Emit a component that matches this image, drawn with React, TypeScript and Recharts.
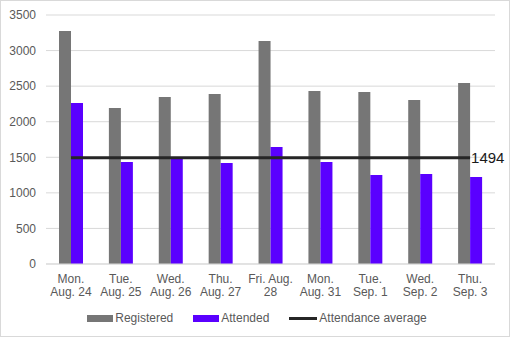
import React from "react";
import {
  ComposedChart,
  Bar,
  Line,
  XAxis,
  YAxis,
  CartesianGrid,
  Legend,
  LabelList,
} from "recharts";

const categories = [
  "Mon.\nAug. 24",
  "Tue.\nAug. 25",
  "Wed.\nAug. 26",
  "Thu.\nAug. 27",
  "Fri. Aug.\n28",
  "Mon.\nAug. 31",
  "Tue.\nSep. 1",
  "Wed.\nSep. 2",
  "Thu.\nSep. 3",
];
const registered = [3275, 2193, 2347, 2390, 3135, 2432, 2418, 2305, 2544];
const attended = [2263, 1434, 1500, 1420, 1645, 1434, 1251, 1265, 1223];
const attendanceAverage = 1494;
const yTicks = [0, 500, 1000, 1500, 2000, 2500, 3000, 3500];

const data = categories.map((c, i) => ({
  name: c,
  registered: registered[i],
  attended: attended[i],
  avg: attendanceAverage,
}));

const FONT = "'Liberation Sans', Arial, sans-serif";
const GRAY = "#767676";
const PURPLE = "#5A00FF";
const LINE = "#262626";
const TEXT = "#595959";

const XTick = (props: any) => {
  const { x, y, payload } = props;
  const lines = String(payload.value).split("\n");
  return (
    <text x={x} y={y} textAnchor="middle" fill={TEXT} fontSize={12} fontFamily={FONT}>
      {lines.map((l, i) => (
        <tspan key={i} x={x} dy={i === 0 ? 19 : 13}>
          {l}
        </tspan>
      ))}
    </text>
  );
};

const LegendContent = () => {
  const item = (swatch: React.ReactNode, label: string) => (
    <div style={{ display: "flex", alignItems: "center" }}>
      {swatch}
      <span style={{ marginLeft: 2 }}>{label}</span>
    </div>
  );
  return (
    <div
      style={{
        display: "flex",
        justifyContent: "center",
        gap: 20,
        fontFamily: FONT,
        fontSize: 12,
        color: TEXT,
      }}
    >
      {item(<div style={{ width: 26, height: 7, background: GRAY }} />, "Registered")}
      {item(<div style={{ width: 26, height: 7, background: PURPLE }} />, "Attended")}
      {item(<div style={{ width: 28, height: 3, background: LINE }} />, "Attendance average")}
    </div>
  );
};

const AvgLabel = (props: any) => {
  const { x, y, index } = props;
  if (index !== data.length - 1) return null;
  return (
    <text x={x + 1} y={y} dy={5.5} fill="#1a1a1a" fontSize={15} fontFamily={FONT}>
      {attendanceAverage}
    </text>
  );
};

export default function App() {
  return (
    <div
      style={{
        position: "absolute",
        left: 0,
        top: 0,
        width: 510,
        height: 337,
        boxSizing: "border-box",
        border: "1px solid #d9d9d9",
        background: "#fff",
      }}
    >
      <div style={{ position: "absolute", left: -1, top: -1 }}>
        <ComposedChart
          width={510}
          height={337}
          data={data}
          margin={{ top: 15, right: 15, left: 0, bottom: 0 }}
          barGap={0}
        >
          <CartesianGrid vertical={false} stroke="#d9d9d9" />
          <XAxis
            dataKey="name"
            height={73}
            tickLine={false}
            tickSize={0}
            tickMargin={0}
            axisLine={{ stroke: "#d9d9d9" }}
            tick={<XTick />}
            interval={0}
          />
          <YAxis
            width={46}
            domain={[0, 3500]}
            ticks={yTicks}
            axisLine={false}
            tickLine={false}
            tickSize={0}
            tickMargin={10}
            tick={{ fill: TEXT, fontSize: 12, fontFamily: FONT }}
          />
          <Bar dataKey="registered" name="Registered" fill={GRAY} barSize={12} isAnimationActive={false} />
          <Bar dataKey="attended" name="Attended" fill={PURPLE} barSize={12} isAnimationActive={false} />
          <Line
            dataKey="avg"
            name="Attendance average"
            stroke={LINE}
            strokeWidth={3}
            dot={false}
            activeDot={false}
            type="linear"
            isAnimationActive={false}
          >
            <LabelList dataKey="avg" content={<AvgLabel />} />
          </Line>
          <Legend
            layout="horizontal"
            verticalAlign="middle"
            align="center"
            content={<LegendContent />}
            wrapperStyle={{ top: 311, left: 2, width: 510 }}
          />
        </ComposedChart>
      </div>
    </div>
  );
}
